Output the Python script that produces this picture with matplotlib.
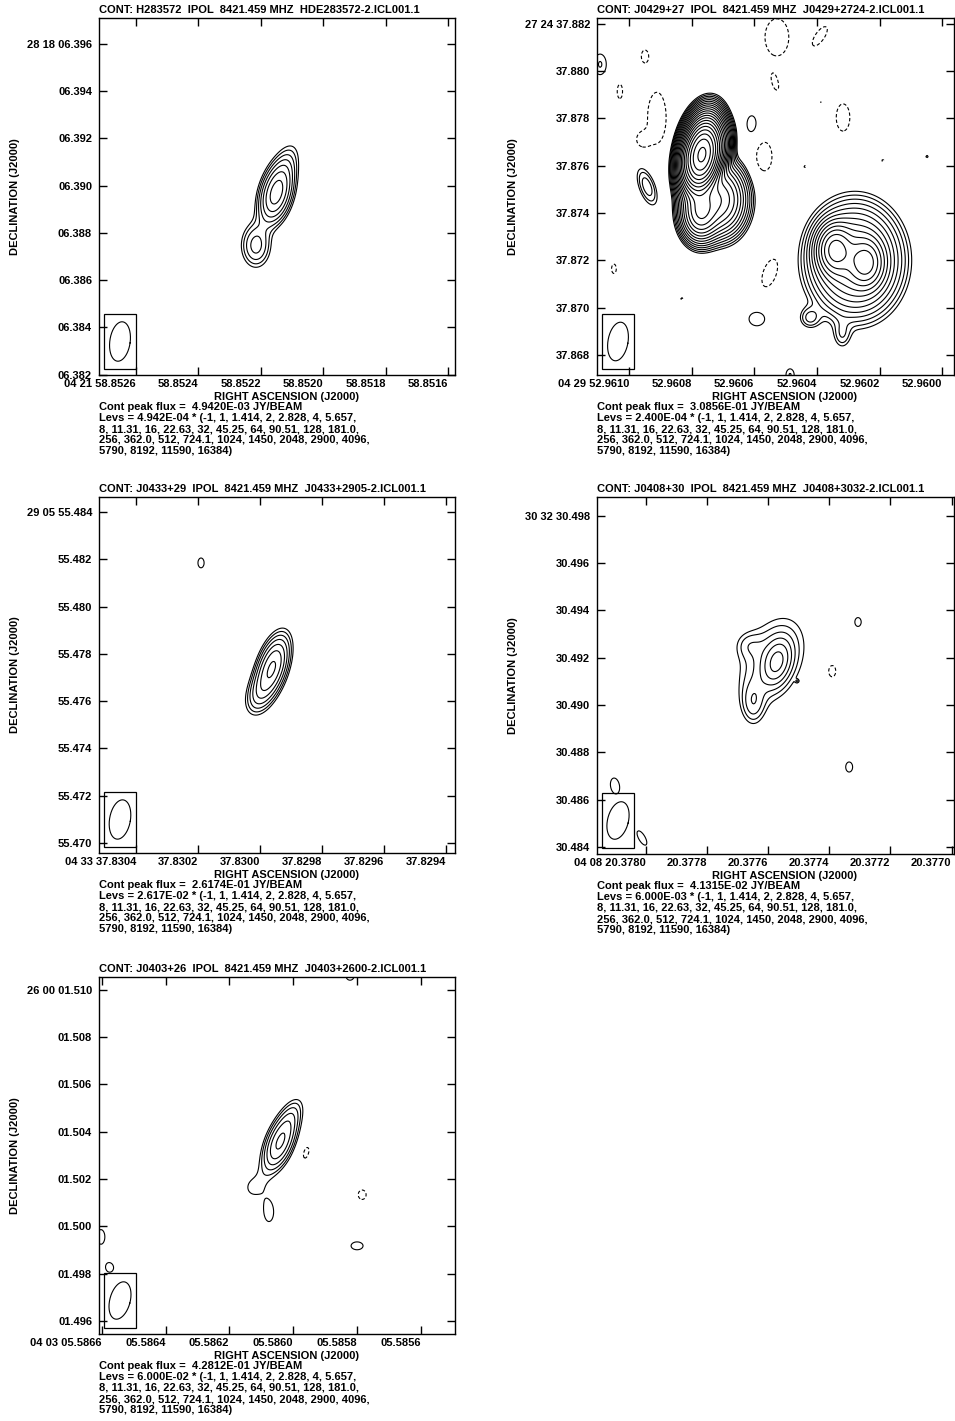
import numpy as np
import matplotlib
matplotlib.use('Agg')
import matplotlib.pyplot as plt
from matplotlib.patches import Rectangle
from matplotlib.ticker import FixedLocator, FuncFormatter

plt.rcParams['font.family'] = ['Liberation Sans', 'DejaVu Sans']
plt.rcParams['font.weight'] = 'bold'
plt.rcParams['font.size'] = 8.0

W, H = 955, 1421

# %% data
lev_mult = [1, 1.414, 2, 2.828, 4, 5.657, 8, 11.31, 16, 22.63, 32, 45.25, 64, 90.51,
            128, 181.0, 256, 362.0, 512, 724.1, 1024, 1450, 2048, 2900, 4096, 5790,
            8192, 11590, 16384]
titles = ['CONT: H283572  IPOL  8421.459 MHZ  HDE283572-2.ICL001.1',
          'CONT: J0429+27  IPOL  8421.459 MHZ  J0429+2724-2.ICL001.1',
          'CONT: J0433+29  IPOL  8421.459 MHZ  J0433+2905-2.ICL001.1',
          'CONT: J0408+30  IPOL  8421.459 MHZ  J0408+3032-2.ICL001.1',
          'CONT: J0403+26  IPOL  8421.459 MHZ  J0403+2600-2.ICL001.1']
peaks = [4.9420e-03, 3.0856e-01, 2.6174e-01, 4.1315e-02, 4.2812e-01]
bases = [4.942e-04, 2.400e-04, 2.617e-02, 6.000e-03, 6.000e-02]
ra_prefix = ['04 21 ', '04 29 ', '04 33 ', '04 08 ', '04 03 ']
dec_prefix = ['28 18 ', '27 24 ', '29 05 ', '30 32 ', '26 00 ']
dec_deg = [28.302, 27.410, 29.098, 30.542, 26.000]
ra_lims = [(58.852718, 58.851579), (52.961102, 52.959963), (37.830519, 37.829371),
           (20.378160, 20.376992), (5.586609, 5.585493)]
dec_lims = [(6.38199, 6.397094), (37.86715, 37.882245), (55.46958, 55.48463),
            (30.483704, 30.498799), (1.49545, 1.510545)]
ra_ticks = [[58.8526, 58.8524, 58.8522, 58.8520, 58.8518, 58.8516],
            [52.9610, 52.9608, 52.9606, 52.9604, 52.9602, 52.9600],
            [37.8304, 37.8302, 37.8300, 37.8298, 37.8296, 37.8294],
            [20.3780, 20.3778, 20.3776, 20.3774, 20.3772, 20.3770],
            [5.5866, 5.5864, 5.5862, 5.5860, 5.5858, 5.5856]]
dec_ticks = [[6.382, 6.384, 6.386, 6.388, 6.390, 6.392, 6.394, 6.396],
             [37.868, 37.870, 37.872, 37.874, 37.876, 37.878, 37.880, 37.882],
             [55.470, 55.472, 55.474, 55.476, 55.478, 55.480, 55.482, 55.484],
             [30.484, 30.486, 30.488, 30.490, 30.492, 30.494, 30.496, 30.498],
             [1.496, 1.498, 1.500, 1.502, 1.504, 1.506, 1.508, 1.510]]
# clean beam: FWHM major, minor (mas), tilt (deg, toward plot right)
beams = [(1.68, 0.86, 8), (1.65, 0.85, 10), (1.68, 0.88, 10), (1.62, 0.88, 14), (1.62, 0.86, 15)]

# components: RA (s), Dec ("), peak (Jy/beam), sigma major, sigma minor (mas), tilt (deg)
p1_comps = [(58.852152, 6.389624, 4.4e-3, 0.75, 0.38, 15),
            (58.852126, 6.390680, 1.0e-3, 0.80, 0.35, 20),
            (58.852216, 6.387467, 1.6e-3, 0.60, 0.40, 0)]
p2_comps = [(52.960767, 37.876471, 0.27, 0.70, 0.36, 10),
            (52.960808, 37.876260, 0.010, 0.50, 0.25, 5),
            (52.960710, 37.876768, 0.006, 0.50, 0.25, 10),
            (52.960710, 37.874565, 0.01, 0.75, 0.55, 0),
            (52.960773, 37.874056, 0.015, 0.60, 0.40, 0),
            (52.960343, 37.872446, 0.010, 0.55, 0.40, 0),
            (52.960244, 37.871895, 0.009, 0.55, 0.40, 0),
            (52.960279, 37.872000, 0.006, 1.15, 0.95, 0),
            (52.960423, 37.869565, 5e-4, 0.30, 0.30, 0),
            (52.960320, 37.868845, 4e-4, 0.40, 0.25, 0),
            (52.960608, 37.877743, 3.4e-4, 0.45, 0.25, 0),
            (52.960592, 37.869523, 3.4e-4, 0.35, 0.40, 0),
            (52.961092, 37.880285, 3.5e-4, 0.50, 0.30, 0),
            (52.960942, 37.875116, 6e-4, 0.60, 0.25, -20),
            (52.960486, 37.867150, 3.5e-4, 0.30, 0.20, 0),
            (52.960387, 37.878675, 2.5e-4, 0.10, 0.10, 0),
            (52.960049, 37.876387, 2.6e-4, 0.12, 0.12, 0),
            (52.960949, 37.880624, -3.2e-4, 0.35, 0.20, 0),
            (52.961029, 37.879141, -3.2e-4, 0.40, 0.15, 0),
            (52.960911, 37.878039, -4.5e-4, 0.95, 0.35, 0),
            (52.960958, 37.877107, -3.5e-4, 0.30, 0.25, 0),
            (52.960528, 37.881429, -4.5e-4, 0.70, 0.45, 0),
            (52.960391, 37.881471, -3.8e-4, 0.50, 0.20, 35),
            (52.960534, 37.879522, -3.4e-4, 0.40, 0.15, -15),
            (52.960317, 37.878039, -3.8e-4, 0.60, 0.30, 0),
            (52.960569, 37.876387, -3.8e-4, 0.65, 0.35, 0),
            (52.960550, 37.871472, -3.8e-4, 0.65, 0.30, 20),
            (52.961048, 37.871641, -3.0e-4, 0.30, 0.15, 0),
            (52.960438, 37.875963, -2.6e-4, 0.12, 0.12, 0),
            (52.960190, 37.876217, -2.6e-4, 0.12, 0.12, 0),
            (52.960831, 37.870370, -2.6e-4, 0.12, 0.12, 0)]
p3_comps = [(37.829961, 55.477404, 0.22, 0.85, 0.36, 18),
            (37.830006, 55.476263, 0.05, 0.60, 0.35, 20),
            (37.830190, 55.481844, 0.03, 0.40, 0.25, 0)]
p4_comps = [(20.377571, 30.491822, 0.027, 0.60, 0.35, 15),
            (20.377649, 30.490088, 0.012, 0.60, 0.32, 0),
            (20.377587, 30.491906, 0.014, 1.40, 0.90, 25),
            (20.377666, 30.492541, 0.006, 0.40, 0.40, 0),
            (20.377391, 30.491441, -0.0075, 0.40, 0.25, 0),
            (20.377306, 30.493513, 0.0075, 0.28, 0.20, 0),
            (20.377335, 30.487382, 0.0075, 0.32, 0.22, 0),
            (20.378101, 30.486579, 0.008, 0.45, 0.25, -10),
            (20.378013, 30.484381, 0.008, 0.45, 0.18, -30),
            (20.377505, 30.491018, 0.0061, 0.05, 0.05, 0)]
p5_comps = [(5.586042, 1.503542, 0.36, 0.80, 0.35, 22),
            (5.586004, 1.504728, 0.08, 0.60, 0.30, 25),
            (5.586126, 1.501635, 0.064, 0.55, 0.50, 0),
            (5.586076, 1.500576, 0.078, 0.50, 0.25, 0),
            (5.585960, 1.503118, -0.07, 0.45, 0.20, 15),
            (5.585784, 1.501339, -0.075, 0.30, 0.25, 0),
            (5.585800, 1.499178, 0.075, 0.25, 0.38, 0),
            (5.586603, 1.499559, 0.07, 0.55, 0.30, 0),
            (5.586575, 1.498246, 0.068, 0.35, 0.30, 0),
            (5.585822, 1.510575, 0.07, 0.30, 0.30, 0)]
comps = [p1_comps, p2_comps, p3_comps, p4_comps, p5_comps]

lev_lines = ['8, 11.31, 16, 22.63, 32, 45.25, 64, 90.51, 128, 181.0,',
             '256, 362.0, 512, 724.1, 1024, 1450, 2048, 2900, 4096,',
             '5790, 8192, 11590, 16384)']

# axes placement in pixels (left, top, width, height)
axes_px = [(99, 18, 356, 357), (597, 18, 357, 357), (99, 497, 356, 356),
           (597, 497, 357, 357), (99, 977, 356, 357)]


def field(cl, RA, DEC, cosd):
    Z = np.zeros_like(RA)
    for ra, dec, amp, smaj, smin, tilt in cl:
        dx = (ra - RA) * 15000 * cosd
        dy = (DEC - dec) * 1000
        t = np.radians(tilt)
        v = dx * np.sin(t) + dy * np.cos(t)
        u = dx * np.cos(t) - dy * np.sin(t)
        Z += amp * np.exp(-0.5 * (u**2 / smin**2 + v**2 / smaj**2))
    return Z


fig = plt.figure(figsize=(W / 100, H / 100), dpi=100)

for i in range(5):
    l, t, w, h = axes_px[i]
    ax = fig.add_axes([l / W, 1 - (t + h) / H, w / W, h / H])
    cosd = np.cos(np.radians(dec_deg[i]))
    ra = np.linspace(ra_lims[i][0], ra_lims[i][1], 320)
    de = np.linspace(dec_lims[i][0], dec_lims[i][1], 320)
    RA, DEC = np.meshgrid(ra, de)
    Z = field(comps[i], RA, DEC, cosd)
    pos = [bases[i] * m for m in lev_mult if bases[i] * m < Z.max()]
    ax.contour(RA, DEC, Z, levels=pos, colors='k', linewidths=0.8)
    if Z.min() < -bases[i]:
        ax.contour(RA, DEC, Z, levels=[-bases[i]], colors='k', linewidths=0.8,
                   linestyles=[(0, (3, 2))])

    ax.set_xlim(ra_lims[i])
    ax.set_ylim(dec_lims[i])

    # beam in lower-left box
    ax.add_patch(Rectangle((5 / w, 6 / h), 32 / w, 55 / h, transform=ax.transAxes,
                           fill=False, lw=0.9, ec='k'))
    bra = ra_lims[i][0] + (ra_lims[i][1] - ra_lims[i][0]) * 21 / w
    bde = dec_lims[i][0] + (dec_lims[i][1] - dec_lims[i][0]) * 33.5 / h
    bmaj, bmin, btilt = beams[i]
    th = np.linspace(0, 2 * np.pi, 200)
    tt = np.radians(btilt)
    eu = bmin / 2 * np.cos(th)
    ev = bmaj / 2 * np.sin(th)
    ex = eu * np.cos(tt) + ev * np.sin(tt)
    ey = -eu * np.sin(tt) + ev * np.cos(tt)
    ax.plot(bra - ex / (15000 * cosd), bde + ey / 1000, 'k-', lw=0.8)

    # ticks
    xt = ra_ticks[i]
    yt = dec_ticks[i]
    ax.xaxis.set_major_locator(FixedLocator(xt))
    ax.yaxis.set_major_locator(FixedLocator(yt))
    ax.xaxis.set_major_formatter(FuncFormatter(
        lambda v, p, xt=xt, pre=ra_prefix[i]: (pre if abs(v - xt[0]) < 1e-8 else '') + '%07.4f' % v))
    ax.yaxis.set_major_formatter(FuncFormatter(
        lambda v, p, yt=yt, pre=dec_prefix[i]: (pre if abs(v - yt[-1]) < 1e-8 else '') + '%06.3f' % v))
    ax.tick_params(direction='in', top=True, right=True, length=6, width=1.0,
                   labelsize=8.0)
    ax.tick_params(axis='x', pad=3)
    ax.tick_params(axis='y', pad=5)
    for lbl in ax.get_xticklabels():
        lbl.set_horizontalalignment('right')
    for s in ax.spines.values():
        s.set_linewidth(1.0)

    # texts
    fig.text(l / W, 1 - (t - 8) / H, titles[i], ha='left', va='center')
    fig.text((l - 84) / W, 1 - (t + h / 2) / H, 'DECLINATION (J2000)', rotation=90,
             ha='center', va='center')
    fig.text((l + w / 2 + 9) / W, 1 - (t + h + 22) / H, 'RIGHT ASCENSION (J2000)',
             ha='center', va='center')
    lines = ['Cont peak flux =  %.4E JY/BEAM' % peaks[i],
             'Levs = %.3E * (-1, 1, 1.414, 2, 2.828, 4, 5.657,' % bases[i]] + lev_lines
    for k, s in enumerate(lines):
        fig.text(l / W, 1 - (t + h + 32 + 11 * k) / H, s, ha='left', va='center')

fig.savefig('out.png', dpi=100)
